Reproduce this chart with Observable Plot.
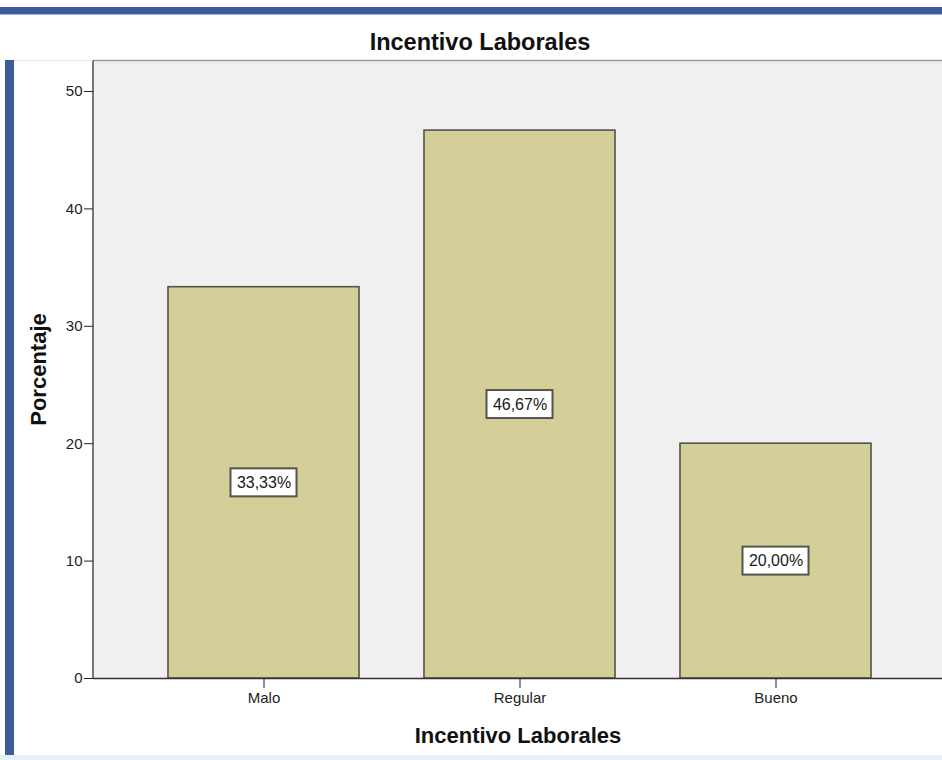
<!DOCTYPE html>
<html>
<head>
<meta charset="utf-8">
<script src="https://cdn.jsdelivr.net/npm/d3@7"></script>
<script src="https://cdn.jsdelivr.net/npm/@observablehq/plot@0.6"></script>
<style>
  html, body { margin: 0; padding: 0; background: #fff; }
  #page { position: relative; width: 942px; height: 760px; overflow: hidden; background: #fff;
          font-family: "Liberation Sans", Arial, Helvetica, sans-serif; }
  #header { position: relative; height: 60px; }
  #title { position: absolute; left: 0; width: 960px; top: 31px; line-height: 23px;
           text-align: center; font-size: 23.5px; font-weight: bold; color: #111; }
  .deco { position: absolute; }
  #chart svg { display: block; }
</style>
</head>
<body>
<div id="page">
  <div class="deco" style="left:0;top:7px;width:942px;height:7px;background:#3d5a9b"></div>
  <div class="deco" style="left:0;top:14px;width:942px;height:1px;background:#9fb1d4"></div>
  <div id="header"><div id="title"></div></div>
  <div id="chart"></div>
  <div class="deco" style="left:14px;top:60px;width:79px;height:1px;background:#e4e4e4"></div>
  <div class="deco" style="left:5px;top:60px;width:9px;height:697px;background:#3d5a9b"></div>
  <div class="deco" style="left:0;top:755px;width:942px;height:5px;background:#e6f0fa"></div>
</div>
<script>
// Percentage of responses per rating of work incentives
const categories = ["Malo", "Regular", "Bueno"];
const percentages = [33.33, 46.67, 20.00];
const yTicks = [0, 10, 20, 30, 40, 50];
const yMax = 52.64;

const titleText = "Incentivo Laborales";
const xLabel = "Incentivo Laborales";
const yLabel = "Porcentaje";

document.getElementById("title").textContent = titleText;

const data = categories.map((cat, i) => ({cat, pct: percentages[i]}));
const fmt = v => v.toFixed(2).replace(".", ",") + "%";

const H = 700, MT = 0, MB = 82, ML = 93;
// half-height of the value label boxes (14px) expressed in y units
const boxHalf = 14 * yMax / (H - MT - MB);

// vertical axis line along the left edge of the plot frame
function leftAxisLine(...args) {
  const dim = args.find(a => a && typeof a === "object" && "marginLeft" in a && "height" in a);
  const g = d3.create("svg:line")
    .attr("x1", dim.marginLeft).attr("x2", dim.marginLeft)
    .attr("y1", dim.marginTop).attr("y2", dim.height - dim.marginBottom)
    .attr("stroke", "#4a4a4a").attr("stroke-width", 1.5);
  return g.node();
}

const chart = Plot.plot({
  width: 942,
  height: H,
  marginTop: MT,
  marginBottom: MB,
  marginLeft: ML,
  marginRight: 0,
  style: {fontFamily: "'Liberation Sans', Arial, sans-serif", background: "transparent", overflow: "visible"},
  x: {domain: categories, range: [ML, 946], paddingInner: 0.254, paddingOuter: 0.293},
  y: {domain: [0, yMax]},
  marks: [
    Plot.frame({fill: "#f0f0f0", stroke: null}),
    Plot.ruleY([yMax], {stroke: "#9a9a9a", strokeWidth: 1.5}),
    Plot.barY(data, {x: "cat", y: "pct", fill: "#d4ce98", stroke: "#55524a", strokeWidth: 1.6}),
    Plot.barY(data, {
      x: "cat",
      y1: d => d.pct / 2 - boxHalf,
      y2: d => d.pct / 2 + boxHalf,
      fill: "#ffffff", stroke: "#55554c", strokeWidth: 2,
      insetLeft: 62.5, insetRight: 62.5
    }),
    Plot.text(data, {x: "cat", y: d => d.pct / 2, text: d => fmt(d.pct), fontSize: 16, fill: "#1a1a1a"}),
    Plot.ruleY([0], {stroke: "#333", strokeWidth: 1.5}),
    leftAxisLine,
    Plot.axisY({ticks: yTicks, tickSize: 9, tickPadding: 2, fontSize: 15, label: null, color: "#222"}),
    Plot.axisX({tickSize: 10, tickPadding: 4, fontSize: 15, label: null, color: "#222"}),
    Plot.text([yLabel], {text: d => d, frameAnchor: "left", textAnchor: "middle", lineAnchor: "middle", dx: -55, rotate: -90, fontSize: 22, fontWeight: "bold", fill: "#111"}),
    Plot.text([xLabel], {text: d => d, frameAnchor: "bottom", textAnchor: "middle", lineAnchor: "middle", dy: 57, fontSize: 22, fontWeight: "bold", fill: "#111"})
  ]
});

document.getElementById("chart").appendChild(chart);
</script>
</body>
</html>
